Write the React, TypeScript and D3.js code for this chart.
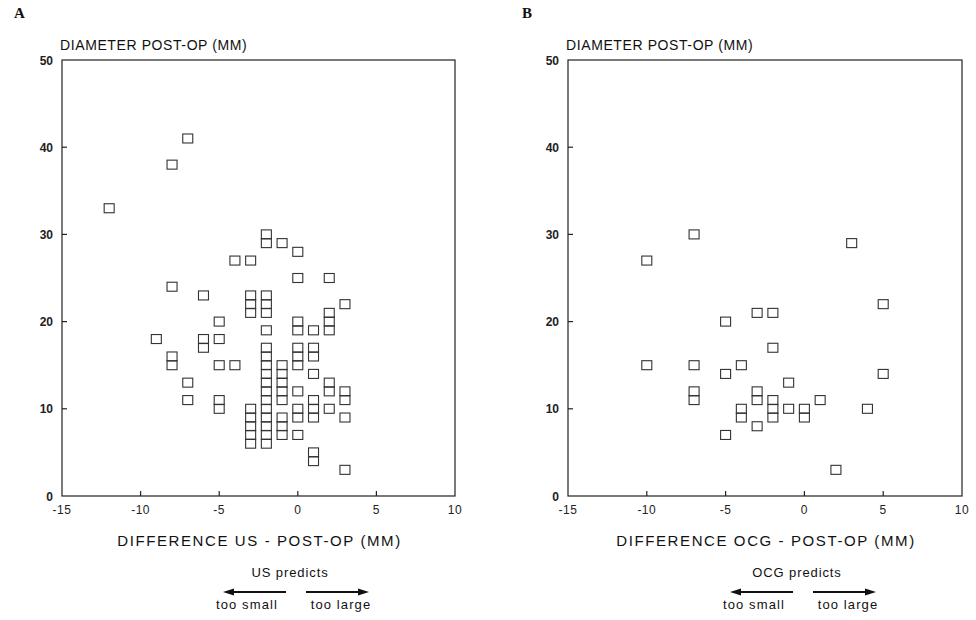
import React from "react";
import * as d3 from "d3";

const xTicks = [-15, -10, -5, 0, 5, 10];
const yTicks = [0, 10, 20, 30, 40, 50];

// Panel A: difference US - post-op (x) vs diameter post-op (y)
const usDiff = [-12,-8,-7,-8,-9,-8,-8,-7,-7,-6,-6,-6,-5,-5,-5,-4,-5,-5,-4,-3,-3,-3,-3,-3,-3,-3,-3,-3,-2,-2,-2,-2,-2,-2,-2,-2,-2,-2,-2,-2,-2,-2,-2,-2,-2,-2,-1,-1,-1,-1,-1,-1,-1,-1,-1,0,0,0,0,0,0,0,0,0,0,0,1,1,1,1,1,1,1,1,1,2,2,2,2,2,2,2,3,3,3,3,3];
const usDiam = [33,38,41,24,18,16,15,13,11,23,18,17,20,18,15,15,11,10,27,27,23,22,21,10,9,8,7,6,30,29,23,22,21,19,17,16,15,14,13,12,11,10,9,8,7,6,29,15,14,13,12,11,9,8,7,28,25,20,19,17,16,15,12,10,9,7,19,17,16,14,11,10,9,5,4,25,21,20,19,13,12,10,22,12,11,9,3];

// Panel B: difference OCG - post-op (x) vs diameter post-op (y)
const ocgDiff = [-10,-10,-7,-7,-7,-7,-5,-5,-5,-4,-4,-4,-3,-2,-2,-3,-3,-3,-2,-2,-2,-1,-1,0,0,1,2,3,4,5,5];
const ocgDiam = [27,15,30,15,12,11,20,14,7,15,10,9,21,21,17,12,11,8,11,10,9,13,10,10,9,11,3,29,10,22,14];

const FONT = "'Liberation Sans', Arial, Helvetica, sans-serif";

type PanelProps = {
  x0: number;
  x1: number;
  xs: number[];
  ys: number[];
  letter: string;
  letterX: number;
  xTitle: string;
  predicts: string;
  centerX: number;
};

function Panel({ x0, x1, xs, ys, letter, letterX, xTitle, predicts, centerX }: PanelProps) {
  const top = 60;
  const bottom = 496;
  const x = d3.scaleLinear().domain([-15, 10]).range([x0, x1]);
  const y = d3.scaleLinear().domain([0, 50]).range([bottom, top]);
  const w = 10;
  const h = 9;
  const arrowY = 592;
  const zeroX = centerX;
  return (
    <g>
      <text x={letterX} y={18} fontFamily="'Liberation Serif', 'DejaVu Serif', serif" fontSize={15} fontWeight="bold" fill="#111">{letter}</text>
      <text x={x0 - 2} y={50} fontFamily={FONT} fontSize={14} letterSpacing={0.6} fill="#111">DIAMETER POST-OP (MM)</text>
      <rect x={x0} y={top} width={x1 - x0} height={bottom - top} fill="none" stroke="#222" strokeWidth={1.2} />
      {yTicks.map((t) => (
        <g key={"y" + t}>
          {t > 0 && t < 50 && <line x1={x0} x2={x0 + 5} y1={y(t)} y2={y(t)} stroke="#222" strokeWidth={1.2} />}
          <text x={x0 - 9} y={y(t) + 4.5} textAnchor="end" fontFamily={FONT} fontSize={12} fontWeight="bold" fill="#222">{t}</text>
        </g>
      ))}
      {xTicks.map((t) => (
        <g key={"x" + t}>
          {t > -15 && t < 10 && <line x1={x(t)} x2={x(t)} y1={bottom} y2={bottom - 5} stroke="#222" strokeWidth={1.2} />}
          <text x={x(t)} y={bottom + 18} textAnchor="middle" fontFamily={FONT} fontSize={12} letterSpacing={0.5} fill="#222">{String(t)}</text>
        </g>
      ))}
      {xs.map((d, i) => (
        <rect key={i} x={x(d) - w / 2} y={y(ys[i]) - h / 2} width={w} height={h} fill="none" stroke="#333" strokeWidth={1.1} />
      ))}
      <text x={(x0 + x1) / 2 + 1} y={546} textAnchor="middle" fontFamily={FONT} fontSize={15} letterSpacing={1.6} fill="#111">{xTitle}</text>
      <text x={zeroX - 6} y={577} textAnchor="middle" fontFamily={FONT} fontSize={13} letterSpacing={0.9} fill="#111">{predicts}</text>
      <line x1={zeroX - 10} x2={zeroX - 64} y1={arrowY} y2={arrowY} stroke="#111" strokeWidth={2.2} />
      <path d={`M${zeroX - 73},${arrowY} L${zeroX - 62},${arrowY - 3.5} L${zeroX - 62},${arrowY + 3.5} Z`} fill="#111" />
      <line x1={zeroX + 10} x2={zeroX + 64} y1={arrowY} y2={arrowY} stroke="#111" strokeWidth={2.2} />
      <path d={`M${zeroX + 73},${arrowY} L${zeroX + 62},${arrowY - 3.5} L${zeroX + 62},${arrowY + 3.5} Z`} fill="#111" />
      <text x={zeroX - 49} y={609} textAnchor="middle" fontFamily={FONT} fontSize={13} letterSpacing={1.1} fill="#111">too small</text>
      <text x={zeroX + 45} y={609} textAnchor="middle" fontFamily={FONT} fontSize={13} letterSpacing={1.1} fill="#111">too large</text>
    </g>
  );
}

export default function App() {
  return (
    <svg width={976} height={620} viewBox="0 0 976 620" style={{ position: "absolute", left: 0, top: 0, background: "#fff" }}>
      <rect x={0} y={0} width={976} height={620} fill="#fff" />
      <Panel x0={62} x1={455} xs={usDiff} ys={usDiam} letter="A" letterX={14} xTitle="DIFFERENCE US - POST-OP (MM)" predicts="US predicts" centerX={296} />
      <Panel x0={568} x1={962} xs={ocgDiff} ys={ocgDiam} letter="B" letterX={522} xTitle="DIFFERENCE OCG - POST-OP (MM)" predicts="OCG predicts" centerX={803} />
    </svg>
  );
}
